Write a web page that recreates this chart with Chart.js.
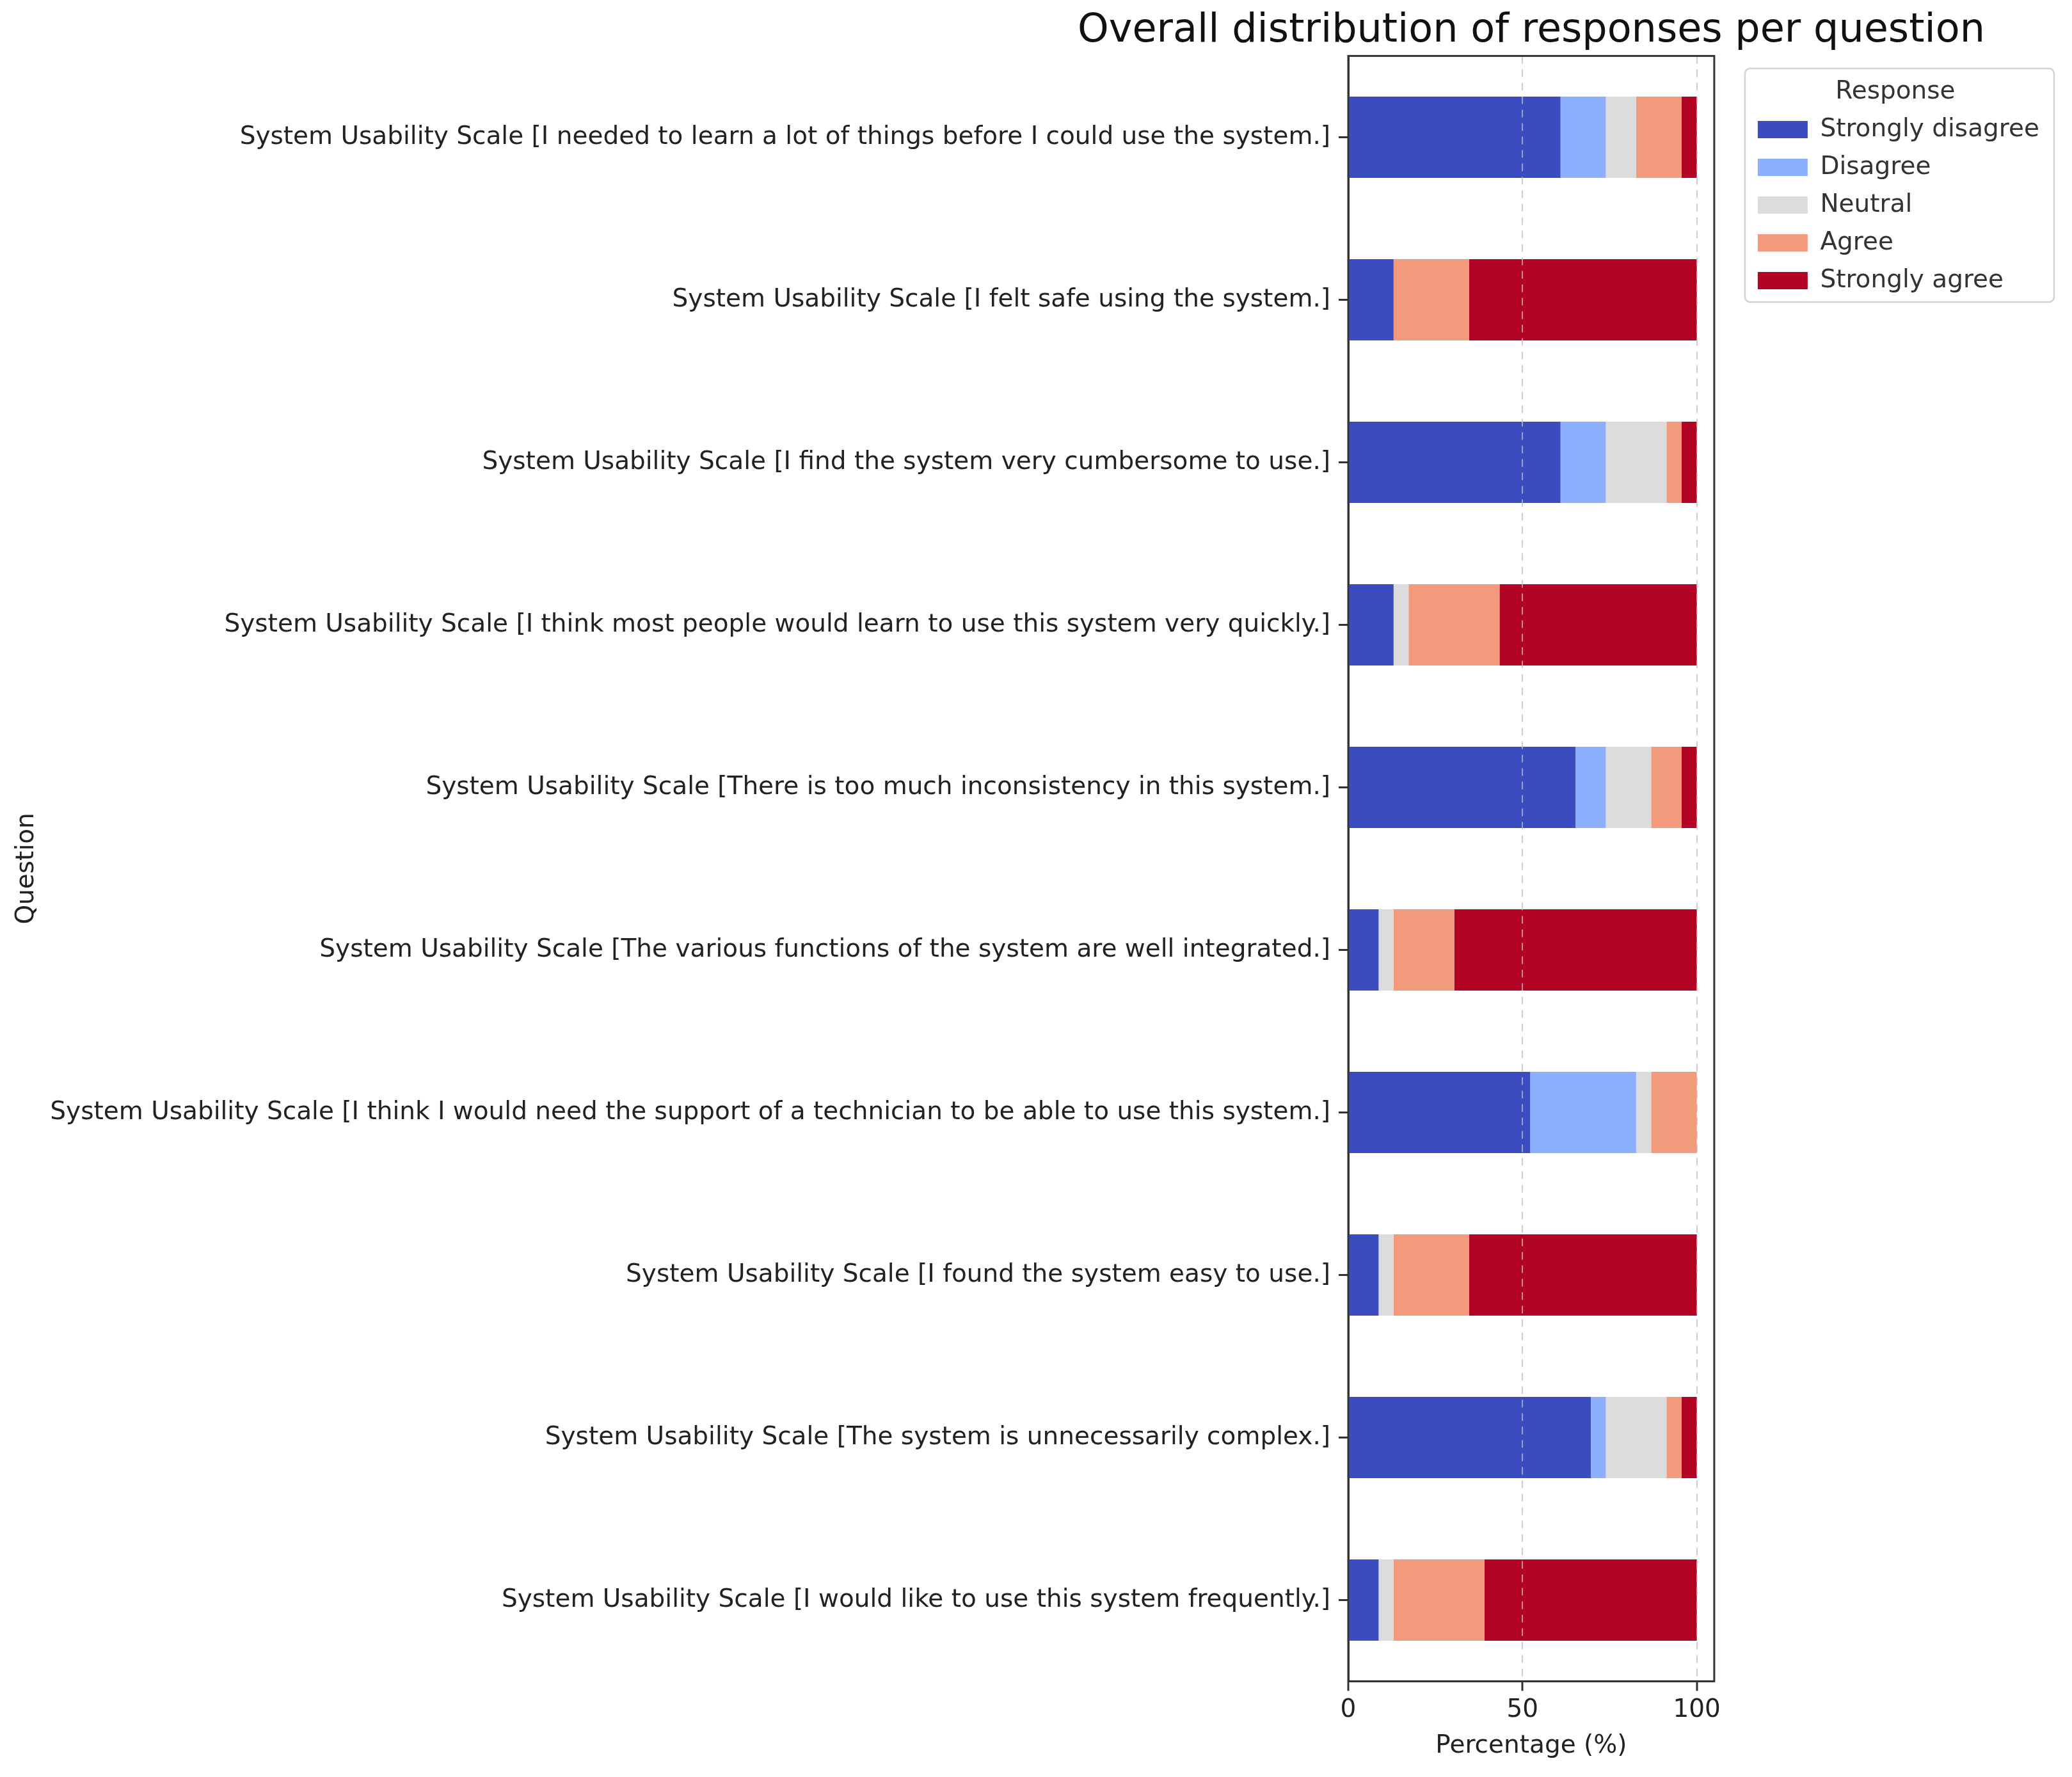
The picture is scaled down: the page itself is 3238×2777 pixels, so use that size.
<!DOCTYPE html>
<html>
<head>
<meta charset="utf-8">
<title>Overall distribution of responses per question</title>
<script src="https://cdn.jsdelivr.net/npm/chart.js@4.4.1/dist/chart.umd.min.js"></script>
<style>
  html, body { margin: 0; padding: 0; background: #fff; }
  #wrap { position: relative; width: 3238px; height: 2777px; background: #fff; }
</style>
</head>
<body>
<div id="wrap"><canvas id="surveyChart"></canvas></div>
<script>
// Questions, listed top to bottom as on the chart
const questions = [
    'System Usability Scale [I needed to learn a lot of things before I could use the system.]',
    'System Usability Scale [I felt safe using the system.]',
    'System Usability Scale [I find the system very cumbersome to use.]',
    'System Usability Scale [I think most people would learn to use this system very quickly.]',
    'System Usability Scale [There is too much inconsistency in this system.]',
    'System Usability Scale [The various functions of the system are well integrated.]',
    'System Usability Scale [I think I would need the support of a technician to be able to use this system.]',
    'System Usability Scale [I found the system easy to use.]',
    'System Usability Scale [The system is unnecessarily complex.]',
    'System Usability Scale [I would like to use this system frequently.]'
];

const responses = ['Strongly disagree', 'Disagree', 'Neutral', 'Agree', 'Strongly agree'];

// Share of answers per question (%)
const stronglyDisagree = [60.9, 13.0, 60.9, 13.0, 65.2, 8.7, 52.2, 8.7, 69.6, 8.7];
const disagree         = [13.0, 0, 13.0, 0, 8.7, 0, 30.4, 0, 4.3, 0];
const neutral          = [8.7, 0, 17.4, 4.3, 13.0, 4.3, 4.3, 4.3, 17.4, 4.3];
const agree            = [13.0, 21.7, 4.3, 26.1, 8.7, 17.4, 13.1, 21.7, 4.3, 26.1];
const stronglyAgree    = [4.4, 65.3, 4.4, 56.6, 4.4, 69.6, 0, 65.3, 4.4, 60.9];

const xTicks = [0, 50, 100];

// coolwarm colours, one per response
const colors = ['#3b4cc0', '#8db0fe', '#dcdcdc', '#f29a7b', '#b40426'];

const seriesValues = [stronglyDisagree, disagree, neutral, agree, stronglyAgree];

Chart.defaults.font.family = "'DejaVu Sans', sans-serif";

const LEGEND_TITLE_TOP = 124;

// Title sits over the plot, but may be wider than it
const wideTitle = {
    id: 'wideTitle',
    afterLayout(chart) {
        const t = chart.titleBlock;
        if (!t) return;
        const cx = (chart.chartArea.left + chart.chartArea.right) / 2;
        t.left = cx - 900;
        t.right = cx + 900;
        t.width = 1800;
    }
};

// Draws the box around the plot and the frame around the legend
const frames = {
    id: 'frames',
    afterDraw(chart) {
        const { ctx, chartArea: a, legend: lg } = chart;
        ctx.save();
        ctx.strokeStyle = '#333';
        ctx.lineWidth = 3;
        ctx.strokeRect(a.left, a.top, a.right - a.left, a.bottom - a.top);

        const boxes = lg.legendHitBoxes || [];
        if (boxes.length) {
            const last = boxes[boxes.length - 1];
            const x0 = lg.left;
            const x1 = lg.right + 13;
            const y0 = lg.top + LEGEND_TITLE_TOP - 17;
            const y1 = last.top + last.height + 14;
            ctx.strokeStyle = '#d2d2d2';
            ctx.lineWidth = 2.5;
            ctx.beginPath();
            ctx.roundRect(x0, y0, x1 - x0, y1 - y0, 8);
            ctx.stroke();
        }
        ctx.restore();
    }
};

const ctx = document.getElementById('surveyChart').getContext('2d');
const chart = new Chart(ctx, {
    type: 'bar',
    data: {
        labels: questions,
        datasets: responses.map((name, i) => ({
            label: name,
            data: seriesValues[i],
            backgroundColor: colors[i],
            borderWidth: 0,
            categoryPercentage: 1.0,
            barPercentage: 0.5,
            xAxisID: 'x',
            yAxisID: 'y'
        }))
    },
    options: {
        indexAxis: 'y',
        responsive: true,
        maintainAspectRatio: false,
        animation: false,
        devicePixelRatio: 1,
        layout: {
            padding: { top: 0, left: 14, right: 41, bottom: 19 }
        },
        scales: {
            x: {
                type: 'linear',
                position: 'bottom',
                stacked: true,
                min: 0,
                max: 105,
                afterBuildTicks: scale => {
                    scale.ticks = xTicks.map(v => ({ value: v }));
                },
                // grid drawn above the bars, like the dashed lines in the picture
                grid: {
                    color: 'rgba(190,190,190,0.75)',
                    lineWidth: 2,
                    z: 1,
                    drawTicks: true,
                    tickLength: 15,
                    tickWidth: 3,
                    tickColor: '#333'
                },
                border: { display: true, color: '#333', width: 3, dash: [12, 9], z: 1 },
                ticks: { font: { size: 39 }, color: '#222', padding: 7, z: 1 },
                title: {
                    display: true,
                    text: 'Percentage (%)',
                    font: { size: 39 },
                    color: '#222',
                    padding: { top: 2, bottom: 6 }
                }
            },
            y: {
                type: 'category',
                position: 'left',
                stacked: true,
                afterFit: scale => { scale.width = 2093; },
                grid: {
                    display: true,
                    offset: false,
                    drawOnChartArea: false,
                    drawTicks: true,
                    tickLength: 15,
                    tickWidth: 3,
                    tickColor: '#333'
                },
                border: { display: true, color: '#333', width: 3 },
                ticks: { font: { size: 39 }, color: '#222', padding: 13, autoSkip: false },
                title: {
                    display: true,
                    text: 'Question',
                    font: { size: 39 },
                    color: '#222',
                    padding: { top: 4, bottom: 4 }
                }
            },
            // empty axis: keeps a gap between the plot and the legend
            gap: {
                type: 'category',
                position: 'right',
                display: true,
                ticks: { display: false },
                grid: { display: false },
                border: { display: false },
                afterFit: scale => { scale.width = 48; }
            }
        },
        plugins: {
            title: {
                display: true,
                text: 'Overall distribution of responses per question',
                fullSize: false,
                align: 'center',
                color: '#111',
                font: { size: 62, weight: 'normal', lineHeight: 1.2 },
                padding: { top: 12, bottom: 1 }
            },
            legend: {
                display: true,
                position: 'right',
                align: 'start',
                labels: {
                    boxWidth: 78,
                    boxHeight: 27,
                    padding: 20,
                    color: '#333',
                    font: { size: 39 }
                },
                title: {
                    display: true,
                    text: 'Response',
                    color: '#333',
                    font: { size: 39, lineHeight: 1 },
                    padding: { top: LEGEND_TITLE_TOP, bottom: 0 }
                }
            },
            tooltip: { enabled: false }
        }
    },
    plugins: [wideTitle, frames]
});
</script>
</body>
</html>
